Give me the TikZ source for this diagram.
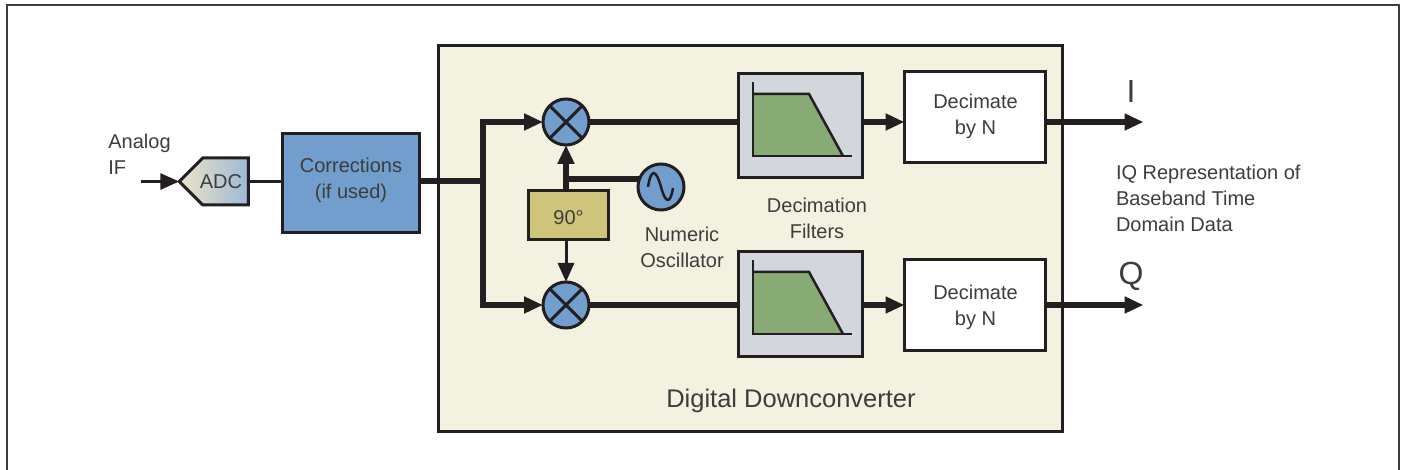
\documentclass[tikz,border=0pt]{standalone}
\usepackage{fontspec}
\setmainfont{Liberation Sans}
\usepackage{tikz}
\usetikzlibrary{shapes,shapes.geometric,shapes.symbols,arrows.meta,calc}
\definecolor{txtgray}{HTML}{3D3D3D}
\definecolor{linegray}{HTML}{231F20}
\definecolor{ddcbg}{HTML}{F3F1E0}
\definecolor{blockblue}{HTML}{719ECC}
\definecolor{phasetan}{HTML}{CFC47C}
\definecolor{filtgray}{HTML}{D3D6DC}
\definecolor{filtgreen}{HTML}{88AB75}
\definecolor{adcleft}{HTML}{EBE5C4}
\definecolor{adcright}{HTML}{9DB9D8}

\begin{document}
\begin{tikzpicture}[x=0.5pt,y=-0.5pt,line join=miter]
	\tikzstyle{every node}=[inner sep=0pt, outer sep=0pt, text=txtgray, font=\fontsize{10}{13}\selectfont, align=center]
	\tikzstyle{block}=[rectangle, draw=linegray, line width=1.5pt]
	\tikzstyle{mixer}=[circle, draw=linegray, line width=1.5pt, fill=blockblue, minimum size=23pt]
	\tikzstyle{thin}=[draw=linegray, line width=1.5pt]
	\tikzstyle{fat}=[draw=linegray, line width=3pt]
	\tikzstyle{tip}=[-{Triangle[length=9.5pt,width=8pt]}]
	\useasboundingbox (0,0) rectangle (1403,470);
	\draw[draw=txtgray, line width=1pt] (6.5,470) -- (6.5,5.5) -- (1398.5,5.5) -- (1398.5,470);

	\node[block, fill=ddcbg, minimum width=312pt, minimum height=193pt] (ddc) at (750,238.5) {};
	\node[font=\fontsize{12.75}{16}\selectfont] (ddclabel) at (791,401) {Digital Downconverter};

	\node[signal, signal to=west, signal pointer angle=90, draw=linegray, line width=1.5pt, left color=adcleft, right color=adcright, minimum width=34.5pt, minimum height=23.5pt] (adc) at (225.5,181.5) {};
	\node (adclabel) at (221,182) {ADC};
	\node[block, line width=1.75pt, fill=blockblue, minimum width=68.5pt, minimum height=49.5pt] (corr) at (351,183) {};
	\node (corrlabel) at (351,180) {Corrections\\(if used)};

	\node[mixer] (mixI) at (566,122) {};
	\node[mixer] (mixQ) at (566,305) {};
	\foreach \mx in {mixI,mixQ}{
		\draw[thin] (\mx.45) -- (\mx.225);
		\draw[thin] (\mx.135) -- (\mx.315);
	}
	\node[block, fill=phasetan, minimum width=40pt, minimum height=24.5pt] (phase) at (568.5,215) {};
	\node (phaselabel) at (568.5,218) {90°};
	\node[mixer] (osc) at (661,187) {};
	\draw[thin, line width=1.25pt, shift={(osc.center)}] (-13,0) .. controls (-10,-19) and (-5,-18) .. (0,0) .. controls (4,15) and (9,19) .. (12,1);

	\foreach \flt/\fy in {filtI/126,filtQ/304}{
		\node[block, fill=filtgray, minimum width=62pt, minimum height=52pt] (\flt) at (800.5,\fy) {};
		\begin{scope}[shift={(\flt.center)}]
			\fill[filtgreen] (-47.5,-32) -- (8.5,-32) -- (42.5,30) -- (-47.5,30) -- cycle;
			\draw[thin, line width=1.25pt] (-47.5,-44) -- (-47.5,30) -- (51.5,30);
			\draw[thin, line width=1.25pt] (-47.5,-32) -- (8.5,-32) -- (42.5,30);
		\end{scope}
	}
	\node[block, fill=white, minimum width=70.5pt, minimum height=45.5pt] (decI) at (975,117) {};
	\node (decIlabel) at (975.5,116.5) {Decimate\\by N};
	\node[block, fill=white, minimum width=70.5pt, minimum height=45.5pt] (decQ) at (975,305) {};
	\node (decQlabel) at (975.5,307) {Decimate\\by N};

	\node[align=left] (analog) at (139.5,158) {Analog\\IF\strut};
	\node (numeric) at (682,247) {Numeric\\Oscillator};
	\node (decfilt) at (817,218) {Decimation\\Filters};
	\node[anchor=west, align=left] (iqnote) at (1116,198) {IQ Representation of\\Baseband Time\\Domain Data};
	\node[font=\fontsize{16}{16}\selectfont] (labI) at (1131,91) {I};
	\node[font=\fontsize{16}{16}\selectfont] (labQ) at (1131,276) {Q};

	\coordinate (in) at (141,181.5);
	\coordinate (junc) at (483,181);
	\coordinate (outI) at (1143.5,122);
	\coordinate (outQ) at (1143.5,305);

	\draw[thin, tip] (in) -- (adc.west);
	\draw[thin] (adc.east) -- (corr.west |- adc.east);
	\draw[fat] (corr.east |- junc) -- (junc);
	\draw[fat, tip] (junc) |- (mixI.west);
	\draw[fat, tip] (junc) |- (mixQ.west);
	\draw[fat] (mixI.east) -- (filtI.west |- mixI.east);
	\draw[fat] (mixQ.east) -- (filtQ.west |- mixQ.east);
	\draw[fat, tip] (filtI.east |- mixI.east) -- (decI.west |- mixI.east);
	\draw[fat, tip] (filtQ.east |- mixQ.east) -- (decQ.west |- mixQ.east);
	\draw[fat, tip] (decI.east |- outI) -- (outI);
	\draw[fat, tip] (decQ.east |- outQ) -- (outQ);
	\draw[fat, tip] (mixI.south |- phase.north) -- (mixI.south);
	\draw[thin, tip] (mixQ.north |- phase.south) -- (mixQ.north);
	\draw[fat] (mixI.south |- osc.160) -- (osc.160);
\end{tikzpicture}
\end{document}
